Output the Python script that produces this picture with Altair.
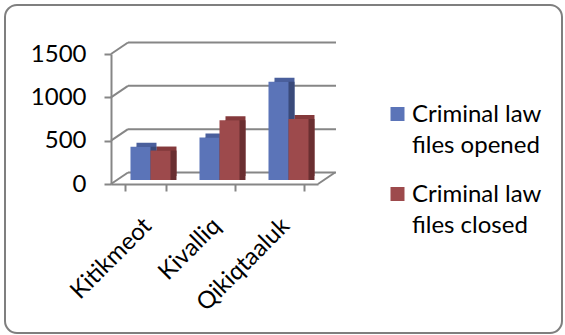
import altair as alt
import pandas as pd

categories = ["Kitikmeot", "Kivalliq", "Qikiqtaaluk"]
files_opened = [385, 490, 1135]
files_closed = [340, 690, 705]
series_names = ["Criminal law files opened", "Criminal law files closed"]
y_ticks = [0, 500, 1000, 1500]

front_colors = ["#5B74B8", "#9D4A4C"]
top_colors = ["#4A5F9C", "#84393B"]
side_colors = ["#3A4A7A", "#6A2F31"]
grid_color = "#868686"
FONT = "Lato"

rows = []
for i, c in enumerate(categories):
    rows.append({"category": c, "series": series_names[0], "value": files_opened[i]})
    rows.append({"category": c, "series": series_names[1], "value": files_closed[i]})
bars_df = pd.DataFrame(rows)
ticks_df = pd.DataFrame({"v": y_ticks})
legend_df = pd.DataFrame({"series": series_names})
one_row = pd.DataFrame({"k": [0]})

W, H = 207, 130
DX, DY = 17, -11.5

y_scale = alt.Scale(domain=[0, 1500], nice=False, zero=True)
x_scale = alt.Scale(domain=categories, paddingInner=0.42, paddingOuter=0.21)

y_axis = alt.Axis(
    title=None, values=y_ticks, format="d", grid=False, domainColor=grid_color, domainWidth=2,
    tickColor=grid_color, tickWidth=2, tickSize=7, labelPadding=18,
    labelFont=FONT, labelFontSize=24, labelColor="black",
)
x_axis = alt.Axis(
    title=None, grid=False, domainColor=grid_color, domainWidth=2, tickColor=grid_color,
    tickWidth=2, tickSize=7, tickBand="extent", labelAngle=-45, labelAlign="right",
    labelBaseline="middle", labelOffset=2, labelPadding=31, labelOverlap=False,
    labelFont=FONT, labelFontSize=24, labelColor="black",
)

frame = alt.Chart(one_row).mark_rect(
    fill="white", fillOpacity=0, stroke="#7f7f7f", strokeWidth=2, cornerRadius=12
).encode(x=alt.value(-106), x2=alt.value(451), y=alt.value(-49), y2=alt.value(279))

grid = alt.Chart(ticks_df).mark_rule(color=grid_color, strokeWidth=2, yOffset=DY).encode(
    y=alt.Y("v:Q", scale=y_scale, axis=y_axis),
    x=alt.value(DX), x2=alt.value(W + DX + 1),
)
diag = alt.Chart(ticks_df).mark_rule(color=grid_color, strokeWidth=2, y2Offset=DY).encode(
    y=alt.Y("v:Q", scale=y_scale, axis=None), y2=alt.Y2("v"),
    x=alt.value(0), x2=alt.value(DX),
)
floor_edge = alt.Chart(one_row).mark_rule(color=grid_color, strokeWidth=2).encode(
    x=alt.value(W), x2=alt.value(W + DX), y=alt.value(H), y2=alt.value(H + DY)
)


def face(x_range, y_off, y2_off, colors):
    return alt.Chart(bars_df).mark_bar(yOffset=y_off, y2Offset=y2_off).encode(
        x=alt.X("category:N", scale=x_scale, axis=x_axis, sort=categories),
        xOffset=alt.XOffset(
            "series:N", sort=series_names,
            scale=alt.Scale(domain=series_names, range=x_range, paddingInner=0, paddingOuter=0),
        ),
        y=alt.Y("value:Q", scale=y_scale, axis=None),
        color=alt.Color("series:N", scale=alt.Scale(domain=series_names, range=colors), legend=None),
    )


top_face = face([11, 51], -8, -8, top_colors)
side_face = face([11, 51], -4, -8, side_colors)
front_face = face([5, 45], -4, -4, front_colors)

legend_y = alt.Y(
    "series:N", axis=None,
    scale=alt.Scale(type="point", domain=series_names, range=[60, 140], padding=0),
)
leg_sq = alt.Chart(legend_df).mark_square(size=196, opacity=1).encode(
    x=alt.value(286.5), y=legend_y,
    color=alt.Color("series:N", scale=alt.Scale(domain=series_names, range=front_colors), legend=None),
)
leg_txt = alt.Chart(legend_df).transform_calculate(
    label="replace(datum.series, 'law ', 'law\\n')"
).mark_text(
    align="left", baseline="middle", lineBreak="\n", lineHeight=31, dy=1,
    fontSize=24, font=FONT, color="black",
).encode(x=alt.value(301), y=legend_y, text="label:N")

chart = alt.layer(
    frame, grid, diag, floor_edge, top_face, side_face, front_face, leg_sq, leg_txt
).resolve_scale(
    y="independent", xOffset="independent", color="independent"
).properties(
    width=W, height=H,
    autosize=alt.AutoSizeParams(type="none"),
    padding={"left": 111, "top": 54, "right": 247, "bottom": 151},
    background="white",
).configure_view(stroke=None)

chart.save("out.html", embed_options={"renderer": "svg", "actions": False})
